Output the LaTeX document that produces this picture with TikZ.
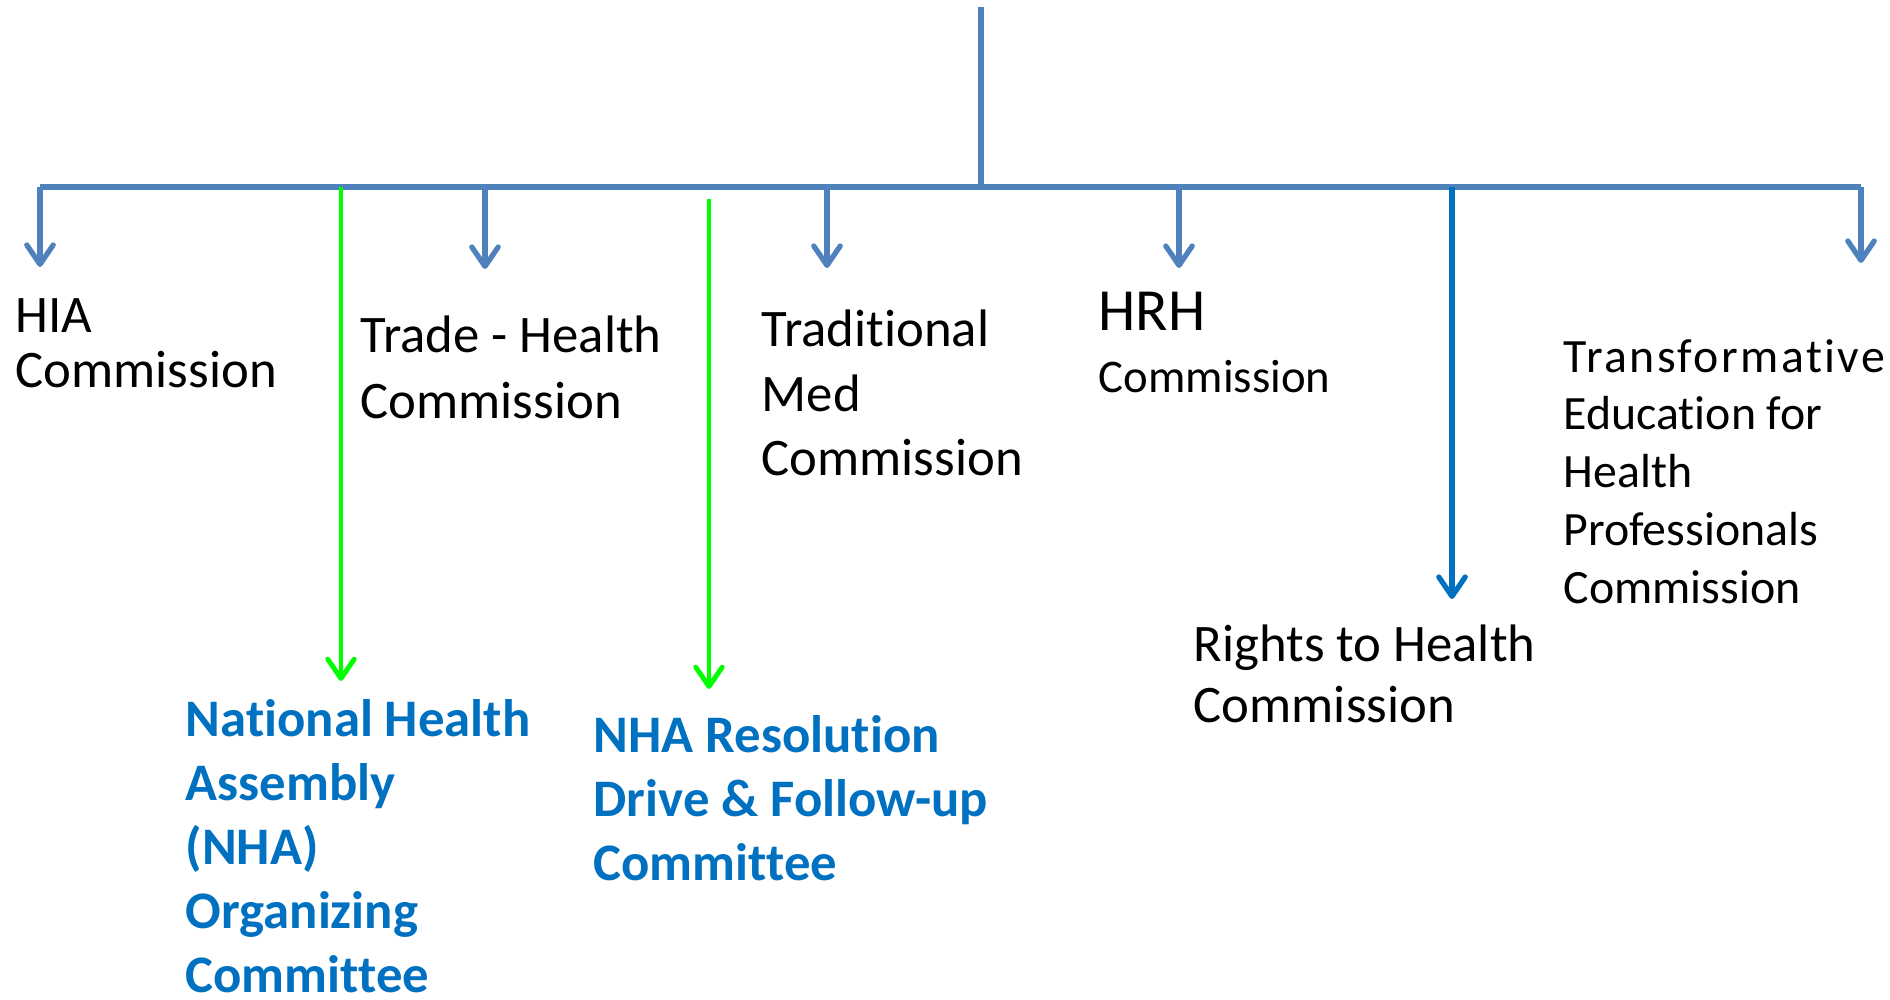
\documentclass[tikz,border=0pt]{standalone}
\usepackage{fontspec}
\setmainfont[Ligatures=NoCommon]{Carlito}
\usepackage{tikz}
\usetikzlibrary{positioning}
\usetikzlibrary{arrows.meta}
\definecolor{barColor}{HTML}{4F81BD}
\definecolor{rightsColor}{HTML}{0070C0}
\definecolor{greenColor}{HTML}{00FF00}
\definecolor{committeeColor}{HTML}{0070C0}

\begin{document}
\begin{tikzpicture}[x=0.01cm, y=-0.01cm]

          \tikzstyle{commissionNode} = [anchor=base west, align=left, inner sep=0pt, font=\fontsize{15}{18.2}\selectfont];
          \tikzstyle{committeeNode} = [commissionNode, text=committeeColor, font=\bfseries\fontsize{15}{18.2}\selectfont];

          \tikzstyle{barEdge} = [barColor, line width=1.5pt];
          \tikzstyle{dropEdge} = [barEdge, -{Straight Barb[length=5.5pt, width=7.5pt, round]}];
          \tikzstyle{rightsEdge} = [dropEdge, rightsColor];
          \tikzstyle{greenEdge} = [greenColor, line width=1.4pt, -{Straight Barb[length=5.5pt, width=7.5pt, round]}];

          \useasboundingbox (0,0) rectangle (1890,1000);

          \coordinate (top) at (981,7);
          \coordinate (hub) at (981,187);
          \coordinate (barL) at (40,187);
          \coordinate (barR) at (1861,187);

          \coordinate (hiaTip) at (40,267);
          \coordinate (nhaTop) at (341,187);
          \coordinate (nhaTip) at (341,681);
          \coordinate (tradeTop) at (485,187);
          \coordinate (tradeTip) at (485,269);
          \coordinate (resTop) at (709,199);
          \coordinate (resTip) at (709,689);
          \coordinate (medTop) at (827,187);
          \coordinate (medTip) at (827,268);
          \coordinate (hrhTop) at (1179,187);
          \coordinate (hrhTip) at (1179,268);
          \coordinate (rightsTop) at (1452,187);
          \coordinate (rightsTip) at (1452,599);
          \coordinate (eduTip) at (1861,263);

          % nodes are placed at the baseline of their last line
          \node[commissionNode, font=\fontsize{15}{15.6}\selectfont] (hia) at (15,387) {HIA\\Commission};
          \node[commissionNode, font=\fontsize{15}{18.5}\selectfont] (trade) at (360,418) {Trade - Health\\Commission};
          \node[commissionNode] (tradmed) at (761,475) {Traditional\\Med\\Commission};
          \node[commissionNode, font=\fontsize{17}{17.4}\selectfont] (hrh) at (1098,392) {HRH\\{\fontsize{13.3}{16}\selectfont Commission}};
          \node[commissionNode, font=\fontsize{13.6}{16.4}\selectfont] (edu) at (1563,603) {{\addfontfeatures{LetterSpace=5}Transformative}\\Education for\\Health\\Professionals\\Commission};
          \node[commissionNode, font=\fontsize{15}{17.1}\selectfont] (rights) at (1193,722) {Rights to Health\\Commission};
          \node[committeeNode] (nha) at (185,992) {National Health\\Assembly\\(NHA)\\Organizing\\Committee};
          \node[committeeNode] (resolution) at (593,880) {NHA Resolution\\Drive \& Follow-up\\Committee};

          \draw[barEdge] (top) -- (hub);
          \draw[barEdge] (barL) -- (barR);
          \draw[dropEdge] (barL) -- (hiaTip);
          \draw[dropEdge] (tradeTop) -- (tradeTip);
          \draw[dropEdge] (medTop) -- (medTip);
          \draw[dropEdge] (hrhTop) -- (hrhTip);
          \draw[dropEdge] (barR) -- (eduTip);
          \draw[rightsEdge] (rightsTop) -- (rightsTip);
          \draw[greenEdge] (nhaTop) -- (nhaTip);
          \draw[greenEdge] (resTop) -- (resTip);
        \end{tikzpicture}
\end{document}
